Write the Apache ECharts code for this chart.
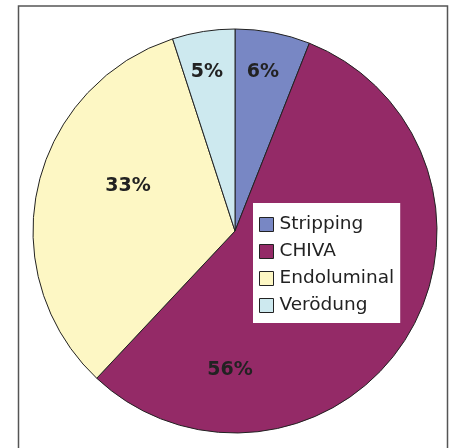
<!DOCTYPE html>
<html><head><meta charset="utf-8">
<script src="https://cdn.jsdelivr.net/npm/echarts@6/dist/echarts.min.js"></script>
<style>html,body{margin:0;padding:0;background:#fff}#c{width:450px;height:448px}</style>
</head><body><div id="c"></div>
<script>
const categories = ['Stripping', 'CHIVA', 'Endoluminal', 'Verödung'];
const values = [6, 56, 33, 5];
const labels = ['6%', '56%', '33%', '5%'];
const colors = ['#7887c4', '#942a67', '#fdf7c4', '#cde9ef'];
// label anchor positions (layout, not data)
const labelPos = [[263, 72], [230, 370], [128, 186], [207, 72]];

const chart = echarts.init(document.getElementById('c'), null, {renderer: 'canvas'});
chart.setOption({
  animation: false,
  backgroundColor: '#fff',
  graphic: [{
    type: 'rect', shape: {x: 18.5, y: 6, width: 429, height: 460},
    style: {fill: 'none', stroke: '#555', lineWidth: 1.5}, z: 0
  }],
  legend: {
    orient: 'vertical', left: 253, top: 203,
    backgroundColor: '#fff',
    padding: [12, 6, 8, 6],
    itemWidth: 14, itemHeight: 14, itemGap: 8,
    icon: 'rect',
    itemStyle: {borderColor: '#222', borderWidth: 1},
    textStyle: {fontFamily: 'DejaVu Sans', fontSize: 18.5, color: '#222', padding: [0, 0, 0, 1]},
    data: categories
  },
  series: [{
    type: 'pie',
    center: [235, 231], radius: [0, 202],
    startAngle: 90, clockwise: true,
    itemStyle: {borderColor: '#222', borderWidth: 1},
    emphasis: {disabled: true},
    label: {
      show: true, position: 'inside',
      formatter: p => labels[p.dataIndex],
      fontFamily: 'DejaVu Sans', fontWeight: 'bold', fontSize: 19, color: '#222'
    },
    labelLayout: p => ({x: labelPos[p.dataIndex][0], y: labelPos[p.dataIndex][1], align: 'center', verticalAlign: 'middle'}),
    data: categories.map((c, i) => ({name: c, value: values[i], itemStyle: {color: colors[i]}}))
  }]
});
</script></body></html>
